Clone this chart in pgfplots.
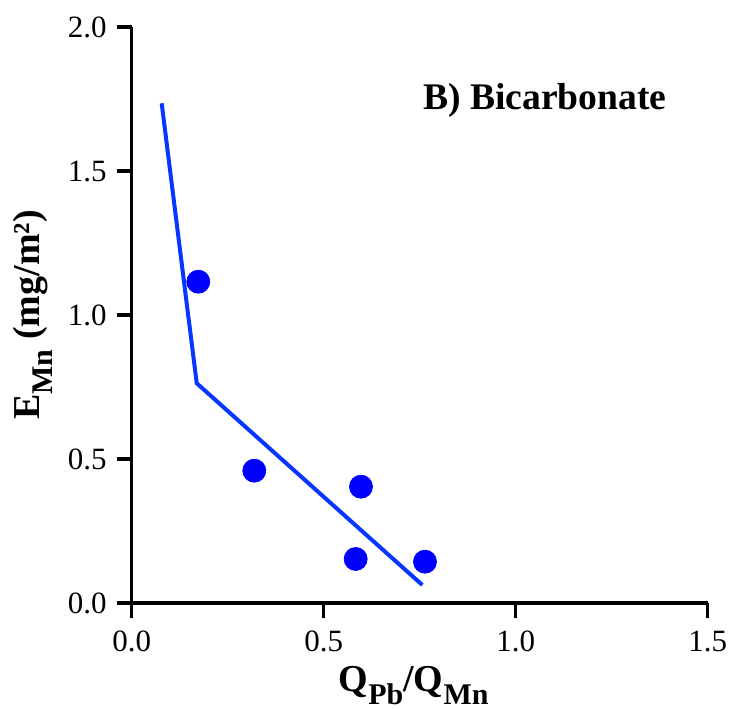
\documentclass[border=0pt]{standalone}
\usepackage{fontspec}
\setmainfont{Liberation Serif}
\usepackage{pgfplots}
\pgfplotsset{compat=1.18}
\definecolor{lineblue}{RGB}{5,55,255}
\definecolor{dotblue}{RGB}{0,0,255}
\newcommand{\lsub}[1]{\raisebox{-6.5pt}{\fontsize{15}{18}\selectfont #1}}
\begin{document}
\begin{tikzpicture}
\begin{axis}[
  scale only axis, width=288pt, height=288pt,
  xmin=0, xmax=1.5, ymin=0, ymax=2,
  axis lines=left,
  axis line style={line width=1.6pt, -},
  xtick={0,0.5,1,1.5}, ytick={0,0.5,1,1.5,2},
  tick align=outside, major tick length=7.5pt,
  tick style={line width=1.6pt, black},
  minor tick num=0,
  ticklabel style={font=\fontsize{15.5}{18}\selectfont},
  xticklabel style={yshift=-3pt, /pgf/number format/.cd, fixed, fixed zerofill, precision=1, assume math mode=true},
  yticklabel style={xshift=-1.5pt, /pgf/number format/.cd, fixed, fixed zerofill, precision=1, assume math mode=true},
  xlabel={\textbf{Q\lsub{Pb}/Q\lsub{Mn}}},
  ylabel={\textbf{E\lsub{Mn} (mg/m²)}},
  label style={font=\fontsize{19}{22}\selectfont},
  xlabel style={xshift=-3pt},
  ylabel shift=1pt,
  clip=false,
]
\addplot[color=lineblue, line width=2pt, no markers] coordinates {
  (0.0781,1.735) (0.1693,0.763) (0.7568,0.0625)
};
\addplot[only marks, mark=*, mark size=5.75pt, mark options={fill=dotblue, draw=dotblue}] coordinates {
  (0.1734,1.1156) (0.3193,0.4594) (0.5971,0.4038) (0.5833,0.1528) (0.7638,0.1434)
};
\node[anchor=base east, inner sep=0pt, font=\fontsize{18.8}{22}\selectfont\bfseries] at (axis cs:1.394,1.715) {B) Bicarbonate};
\end{axis}
\pgfresetboundingbox
\path ([shift={(-65.85pt,-53pt)}]current axis.south west) rectangle ([shift={(10.65pt,13.5pt)}]current axis.north east);
\end{tikzpicture}
\end{document}
